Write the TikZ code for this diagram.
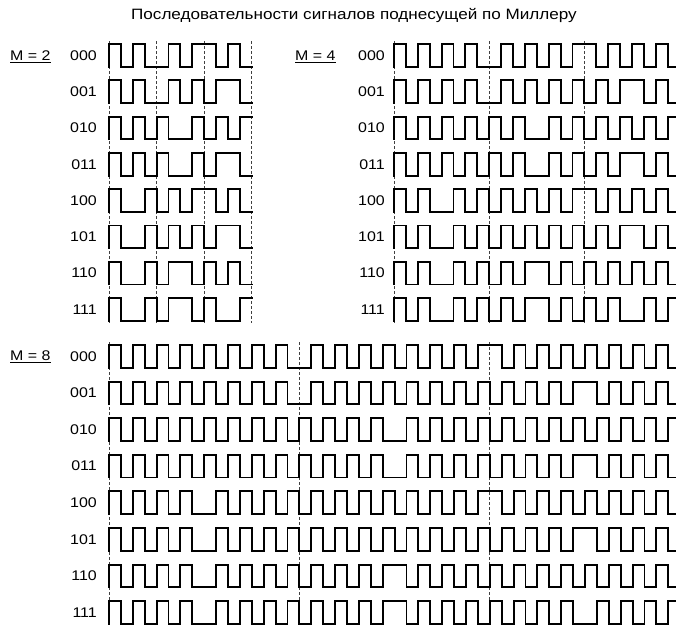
\documentclass[tikz,border=0pt]{standalone}
\usepackage{fontspec}
\setmainfont[FakeStretch=1.14]{Liberation Sans}
\tikzset{
  wave/.style={line width=1.95pt, line cap=rect},
  sepline/.style={line width=0.75pt, dash pattern=on 3pt off 2pt, black!75},
  lbl/.style={inner sep=0pt, font=\fontsize{14}{16}\selectfont},
  ttl/.style={inner sep=0pt, font=\fontsize{15}{17}\selectfont},
  uline/.style={line width=0.8pt},
}
% #1 x0, #2 ytop, #3 M, #4 phases, #5 half-cycle width
\newcommand\mywave[5]{%
  \pgfmathsetmacro\wtop{#2}%
  \pgfmathsetmacro\wbot{#2+22.7}%
  \pgfmathtruncatemacro\mm{#3-1}%
  \foreach \p [count=\k from 0, remember=\p as \pp (initially 0)] in {#4} {%
    \foreach \j in {0,...,\mm} {%
      \pgfmathsetmacro\xx{#1+(\k*#3+\j)*#5}%
      \pgfmathtruncatemacro\lv{1-mod(\j+\p,2)}%
      \ifnum\lv=1 \let\yy\wtop\else\let\yy\wbot\fi
      \draw[wave] (\xx,\yy) -- ++(#5,0);
      \pgfmathtruncatemacro\dov{(\j>0)||(\pp==\p)}%
      \ifnum\dov=1 \draw[wave] (\xx,\wtop) -- (\xx,\wbot);\fi
    }%
  }%
}
% #1 name, #2 label x, #3 x0, #4 ytop, #5 M, #6 phases, #7 label
\newcommand\wrow[7]{%
  \node[lbl, anchor=east] (#1) at (#2,#4+11.35) {#7};
  \mywave{#3}{#4}{#5}{#6}{11.9}%
}
\begin{document}
\begin{tikzpicture}[x=1pt,y=-1pt]
\useasboundingbox (0,0) rectangle (676,625);
\begin{scope}
\clip (0,0) rectangle (676,625);

% title
\node[ttl, anchor=base] (title) at (354,19.5) {Последовательности сигналов поднесущей по Миллеру};

% panel labels
\node[lbl, anchor=base west] (m2) at (10,60.2) {M = 2};
\draw[uline] ([yshift=-1.8pt]m2.base west) -- ([yshift=-1.8pt]m2.base east);
\node[lbl, anchor=base west] (m4) at (295,60.2) {M = 4};
\draw[uline] ([yshift=-1.8pt]m4.base west) -- ([yshift=-1.8pt]m4.base east);
\node[lbl, anchor=base west] (m8) at (10,360.7) {M = 8};
\draw[uline] ([yshift=-1.8pt]m8.base west) -- ([yshift=-1.8pt]m8.base east);

% bit boundaries
\foreach \x in {109,156.6,204.2,251.8} \draw[sepline] (\x,41) -- (\x,323);
\foreach \x in {394,489.2,584.4} \draw[sepline] (\x,41) -- (\x,323);
\foreach \x in {109,299.4,489.8} \draw[sepline] (\x,342) -- (\x,625);

% M = 2
\wrow{a0}{97}{109}{44}{2}{0,0,1,1,0,0}{000}
\wrow{a1}{97}{109}{80.3}{2}{0,0,1,1,1,0}{001}
\wrow{a2}{97}{109}{116.6}{2}{0,0,0,1,1,1}{010}
\wrow{a3}{97}{109}{152.9}{2}{0,0,0,1,1,0}{011}
\wrow{a4}{97}{109}{189.2}{2}{0,1,1,1,0,0}{100}
\wrow{a5}{97}{109}{225.5}{2}{0,1,1,1,1,0}{101}
\wrow{a6}{97}{109}{261.8}{2}{0,1,1,0,0,0}{110}
\wrow{a7}{97}{109}{298.1}{2}{0,1,1,0,0,1}{111}

% M = 4
\wrow{b0}{385}{394}{44}{4}{0,0,1,1,0,0}{000}
\wrow{b1}{385}{394}{80.3}{4}{0,0,1,1,1,0}{001}
\wrow{b2}{385}{394}{116.6}{4}{0,0,0,1,1,1}{010}
\wrow{b3}{385}{394}{152.9}{4}{0,0,0,1,1,0}{011}
\wrow{b4}{385}{394}{189.2}{4}{0,1,1,1,0,0}{100}
\wrow{b5}{385}{394}{225.5}{4}{0,1,1,1,1,0}{101}
\wrow{b6}{385}{394}{261.8}{4}{0,1,1,0,0,0}{110}
\wrow{b7}{385}{394}{298.1}{4}{0,1,1,0,0,1}{111}

% M = 8
\wrow{c0}{97}{109}{345}{8}{0,0,1,1,0,0}{000}
\wrow{c1}{97}{109}{381.6}{8}{0,0,1,1,1,0}{001}
\wrow{c2}{97}{109}{418.2}{8}{0,0,0,1,1,1}{010}
\wrow{c3}{97}{109}{454.8}{8}{0,0,0,1,1,0}{011}
\wrow{c4}{97}{109}{491.4}{8}{0,1,1,1,0,0}{100}
\wrow{c5}{97}{109}{528}{8}{0,1,1,1,1,0}{101}
\wrow{c6}{97}{109}{564.6}{8}{0,1,1,0,0,0}{110}
\wrow{c7}{97}{109}{601.2}{8}{0,1,1,0,0,1}{111}
\end{scope}
\end{tikzpicture}
\end{document}
